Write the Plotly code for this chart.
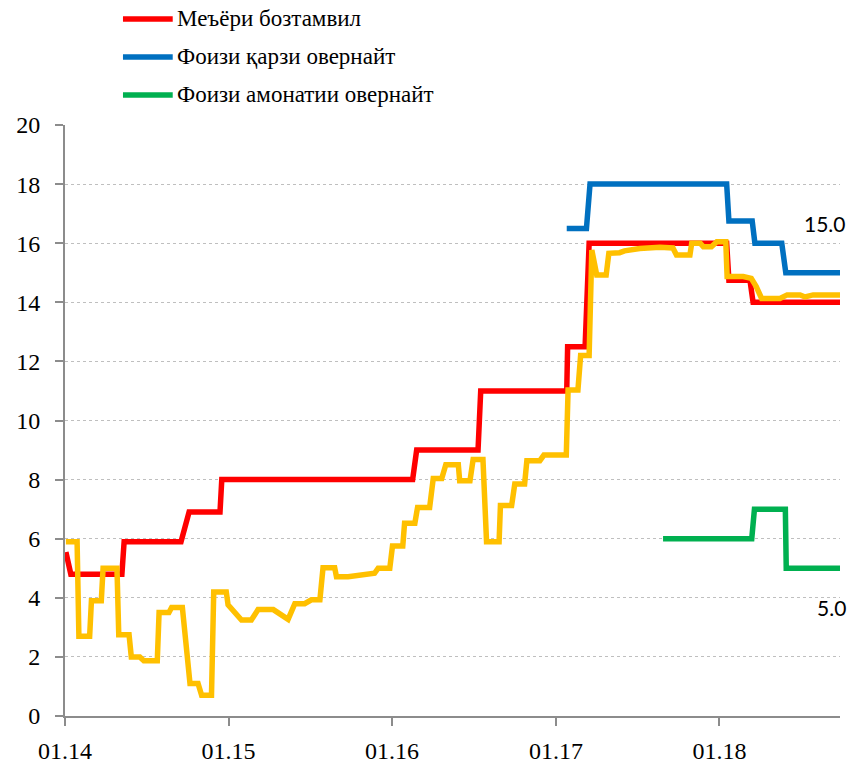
import plotly.graph_objects as go

# refinancing rate
policy_dates = [
    "2014-01-03", "2014-01-14", "2014-05-08", "2014-05-13", "2014-09-17",
    "2014-10-05", "2014-12-13", "2014-12-17", "2016-02-16", "2016-02-25",
    "2016-07-11", "2016-07-17", "2017-01-25", "2017-01-27", "2017-03-07",
    "2017-03-16", "2018-01-17", "2018-01-22", "2018-03-10", "2018-03-17",
    "2018-09-27",
]
policy_rate = [
    5.55, 4.8, 4.8, 5.9, 5.9,
    6.9, 6.9, 8.0, 8.0, 9.0,
    9.0, 11.0, 11.0, 12.5, 12.5,
    16.0, 16.0, 14.75, 14.75, 14.0,
    14.0,
]

# overnight lending rate
lending_dates = [
    "2017-01-25", "2017-03-10", "2017-03-18", "2018-01-17", "2018-01-22",
    "2018-03-15", "2018-03-21", "2018-05-20", "2018-05-29", "2018-09-27",
]
lending_rate = [16.5, 16.5, 18.0, 18.0, 16.75, 16.75, 16.0, 16.0, 15.0, 15.0]

# overnight deposit rate
deposit_dates = [
    "2017-08-28", "2018-03-14", "2018-03-20", "2018-05-28", "2018-05-30",
    "2018-09-27",
]
deposit_rate = [6.0, 6.0, 7.0, 7.0, 5.0, 5.0]

# interbank rate (not in legend)
interbank_dates = [
    "2014-01-03", "2014-01-28", "2014-02-01", "2014-02-25", "2014-03-01",
    "2014-03-23", "2014-03-27", "2014-04-27", "2014-05-01", "2014-05-24",
    "2014-05-29", "2014-06-17", "2014-06-26", "2014-07-26", "2014-07-30",
    "2014-08-21", "2014-08-27", "2014-09-20", "2014-10-07", "2014-10-25",
    "2014-11-02", "2014-11-24", "2014-11-29", "2014-12-27", "2014-12-31",
    "2015-01-30", "2015-02-21", "2015-03-08", "2015-04-11", "2015-05-14",
    "2015-05-29", "2015-06-20", "2015-07-05", "2015-07-24", "2015-07-31",
    "2015-08-26", "2015-08-30", "2015-09-25", "2015-11-23", "2015-12-01",
    "2015-12-27", "2016-01-02", "2016-01-25", "2016-01-29", "2016-02-21",
    "2016-02-27", "2016-03-25", "2016-04-02", "2016-04-21", "2016-04-30",
    "2016-05-28", "2016-05-31", "2016-06-23", "2016-06-30", "2016-07-22",
    "2016-07-30", "2016-08-27", "2016-08-30", "2016-09-24", "2016-10-01",
    "2016-10-23", "2016-10-28", "2016-11-26", "2016-12-05", "2017-01-24",
    "2017-01-28", "2017-02-19", "2017-02-25", "2017-03-16", "2017-03-22",
    "2017-04-02", "2017-04-23", "2017-04-29", "2017-05-23", "2017-06-03",
    "2017-07-07", "2017-08-21", "2017-09-19", "2017-09-27", "2017-10-27",
    "2017-10-31", "2017-11-19", "2017-11-26", "2017-12-14", "2017-12-26",
    "2018-01-15", "2018-01-18", "2018-02-23", "2018-03-13", "2018-03-24",
    "2018-04-05", "2018-05-16", "2018-06-01", "2018-06-30", "2018-07-11",
    "2018-07-29", "2018-09-27",
]
interbank_rate = [
    5.9, 5.9, 2.7, 2.7, 3.9,
    3.9, 5.0, 5.0, 2.75, 2.75,
    2.0, 2.0, 1.87, 1.87, 3.5,
    3.5, 3.67, 3.67, 1.1, 1.1,
    0.7, 0.7, 4.2, 4.2, 3.76,
    3.25, 3.25, 3.6, 3.6, 3.27,
    3.8, 3.8, 3.93, 3.93, 5.02,
    5.02, 4.71, 4.71, 4.83, 5.0,
    5.0, 5.75, 5.75, 6.52, 6.52,
    7.06, 7.06, 8.04, 8.04, 8.5,
    8.5, 7.96, 7.96, 8.68, 8.68,
    5.9, 5.9, 7.12, 7.12, 7.85,
    7.85, 8.64, 8.64, 8.83, 8.83,
    11.03, 11.03, 12.2, 12.2, 15.77,
    14.92, 14.92, 15.66, 15.68, 15.74,
    15.82, 15.86, 15.84, 15.6, 15.6,
    16.0, 16.0, 15.88, 15.88, 16.05,
    16.05, 14.87, 14.87, 14.81, 14.53,
    14.13, 14.13, 14.25, 14.25, 14.18,
    14.25, 14.25,
]

tick_dates = ["2014-01-01", "2015-01-01", "2016-01-01", "2017-01-01", "2018-01-01"]
tick_labels = ["01.14", "01.15", "01.16", "01.17", "01.18"]

legend_names = ["Меъёри бозтамвил", "Фоизи қарзи овернайт", "Фоизи амонатии овернайт"]
colors = ["#FF0000", "#0070C0", "#00B050"]
yellow = "#FFC000"

serif = "Liberation Serif"
axis_grey = "#8C8C8C"

fig = go.Figure()
fig.add_trace(go.Scatter(x=policy_dates, y=policy_rate, mode="lines",
                         line=dict(color=colors[0], width=5.5), showlegend=False))
fig.add_trace(go.Scatter(x=lending_dates, y=lending_rate, mode="lines",
                         line=dict(color=colors[1], width=5.5), showlegend=False))
fig.add_trace(go.Scatter(x=deposit_dates, y=deposit_rate, mode="lines",
                         line=dict(color=colors[2], width=5.5), showlegend=False))
# interbank drawn last so it sits above the policy line
fig.add_trace(go.Scatter(x=interbank_dates, y=interbank_rate, mode="lines",
                         line=dict(color=yellow, width=5.5), showlegend=False))

# hand-made legend (long line samples)
for i, (name, col) in enumerate(zip(legend_names, colors)):
    yp = 1.1794 - i * 0.0643
    fig.add_shape(type="line", xref="paper", yref="paper",
                  x0=0.0748, x1=0.139, y0=yp, y1=yp,
                  line=dict(color=col, width=5.5))
    fig.add_annotation(xref="paper", yref="paper", x=0.1415, y=yp,
                       xanchor="left", yanchor="middle", text=name,
                       showarrow=False,
                       font=dict(family=serif, size=23, color="black"))

fig.add_annotation(xref="paper", yref="paper", x=1.0103, y=0.8325,
                   xanchor="right", yanchor="middle", text="15.0",
                   showarrow=False, font=dict(family="Lato", size=21, color="black"))
fig.add_annotation(xref="paper", yref="paper", x=1.0103, y=0.1844,
                   xanchor="right", yanchor="middle", text="5.0",
                   showarrow=False, font=dict(family="Lato", size=21, color="black"))

fig.update_layout(
    width=852, height=766,
    margin=dict(l=65, r=12, t=125, b=50),
    plot_bgcolor="white", paper_bgcolor="white",
    showlegend=False,
    xaxis=dict(
        range=["2014-01-01", "2018-09-27"],
        tickvals=tick_dates, ticktext=tick_labels,
        showgrid=False, showline=True, linecolor=axis_grey, linewidth=2,
        ticks="outside", ticklen=8, tickwidth=2, tickcolor=axis_grey,
        tickfont=dict(family=serif, size=24, color="black"),
        ticklabelstandoff=4, automargin=False,
        zeroline=False,
    ),
    yaxis=dict(
        range=[0, 20], tickvals=list(range(0, 21, 2)),
        showgrid=True, gridcolor="#BFBFBF", gridwidth=1, griddash="dot",
        showline=True, linecolor=axis_grey, linewidth=2,
        ticks="outside", ticklen=8, tickwidth=2, tickcolor=axis_grey,
        tickfont=dict(family=serif, size=24, color="black"),
        ticklabelstandoff=10, automargin=False,
        zeroline=False,
    ),
)

# drop the default 8px page margin so the figure fills the window exactly
fig.write_html("out.html", config={"displayModeBar": False},
               post_script="document.body.style.margin = '0';")
